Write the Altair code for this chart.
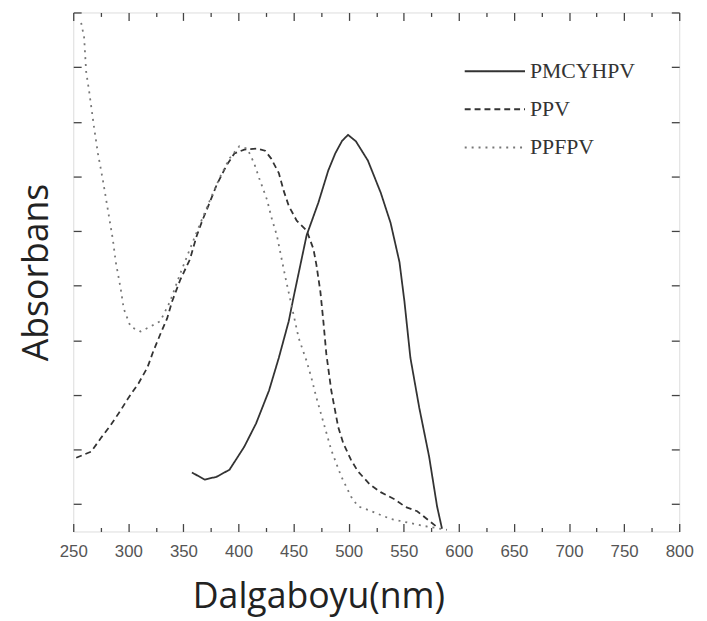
import altair as alt
import pandas as pd

# ---- data (x: wavelength nm, y: absorbance, arbitrary units) ----
series_order = ["PMCYHPV", "PPV", "PPFPV"]

pmc_x = [357.7, 369.3, 380.0, 391.8, 405.2, 416.0, 427.7, 436.6, 445.6, 450.1, 461.8,
         472.5, 481.5, 487.8, 494.0, 499.4, 506.6, 517.4, 529.1, 538.0, 546.1, 550.6,
         556.0, 564.0, 573.0, 580.2, 584.7]
pmc_y = [0.58, 0.45, 0.50, 0.63, 1.05, 1.48, 2.08, 2.68, 3.35, 3.80, 4.92,
         5.52, 6.11, 6.42, 6.65, 6.76, 6.64, 6.29, 5.70, 5.15, 4.43, 3.71,
         2.68, 1.77, 0.87, -0.04, -0.45]

ppv_x = [252.7, 266.2, 275.1, 284.1, 293.1, 300.2, 309.2, 317.3, 322.7, 329.0, 335.2,
         339.7, 347.0, 355.9, 362.2, 367.5, 373.8, 380.1, 389.1, 396.3, 405.2, 416.9,
         424.1, 429.5, 436.6, 441.1, 445.6, 452.8, 461.8, 468.0, 470.7, 474.3, 477.0,
         479.7, 484.2, 490.5, 495.0, 502.1, 508.4, 519.2, 529.0, 541.6, 551.5, 562.2,
         580.2]
ppv_y = [0.85, 0.96, 1.21, 1.45, 1.72, 1.95, 2.21, 2.50, 2.80, 3.11, 3.40,
         3.71, 4.10, 4.48, 4.92, 5.21, 5.52, 5.84, 6.20, 6.42, 6.49, 6.51,
         6.47, 6.33, 6.06, 5.73, 5.46, 5.19, 5.01, 4.67, 4.38, 3.89, 3.35,
         2.75, 2.08, 1.41, 1.12, 0.81, 0.60, 0.36, 0.22, 0.09, -0.05, -0.13,
         -0.42]

ppf_x = [257.2, 259.9, 261.7, 264.4, 268.8, 272.4, 276.9, 281.4, 285.9, 288.6, 293.1,
         295.8, 302.0, 311.0, 320.0, 329.0, 337.9, 346.9, 355.9, 364.9, 373.8, 382.8,
         391.8, 400.7, 407.9, 414.2, 418.7, 425.9, 430.4, 434.8, 438.4, 442.9, 454.6,
         461.8, 466.2, 470.7, 484.2, 493.2, 502.1, 508.4, 515.6, 538.0, 568.5, 589.2]
ppf_y = [8.81, 8.54, 7.92, 7.56, 6.91, 6.42, 5.93, 5.39, 4.85, 4.43, 3.94,
         3.58, 3.25, 3.16, 3.25, 3.35, 3.71, 4.21, 4.67, 5.12, 5.55, 5.97,
         6.33, 6.55, 6.51, 6.24, 5.97, 5.57, 5.21, 4.92, 4.56, 4.12, 3.04,
         2.62, 2.31, 1.95, 0.99, 0.51, 0.14, -0.04, -0.09, -0.27, -0.40, -0.47]

x_ticks = list(range(250, 801, 25))
y_ticks = list(range(0, 10))

rows = []
for name, xs, ys in [("PMCYHPV", pmc_x, pmc_y), ("PPV", ppv_x, ppv_y), ("PPFPV", ppf_x, ppf_y)]:
    for i, (a, b) in enumerate(zip(xs, ys)):
        rows.append({"series": name, "wl": a, "abs": b, "order": i})
df = pd.DataFrame(rows)

tick_major_minor = {"condition": {"test": "datum.value % 50 === 0", "value": -8}, "value": -4}

x_scale = alt.Scale(domain=[250, 800], nice=False, zero=False)
y_scale = alt.Scale(domain=[-0.5, 9.0], nice=False, zero=False)

legend_cfg = dict(title=None, orient="none", legendX=395, legendY=41,
                  symbolType="stroke", symbolSize=3721,
                  symbolStrokeWidth=2, clipHeight=37, rowPadding=1.5,
                  labelFont="Liberation Serif", labelFontSize=22,
                  labelColor="#333", labelOffset=4, padding=0)

lines = alt.Chart(df).mark_line(strokeWidth=1.8, clip=True).encode(
    x=alt.X("wl:Q", scale=x_scale,
            axis=alt.Axis(values=x_ticks, orient="bottom", domain=False,
                          labelExpr="datum.value % 50 === 0 ? datum.label : ''",
                          labelOverlap=False, labelFlush=False,
                          tickSize=tick_major_minor, tickColor="#444", tickWidth=1.3,
                          labelFont="Liberation Sans Narrow, Liberation Sans, sans-serif",
                          labelFontSize=17, labelColor="#555", labelPadding=20,
                          title="Dalgaboyu(nm)", titleFont="Open Sans", titleFontSize=36,
                          titleFontWeight="normal", titleColor="#222", titlePadding=17,
                          titleX=248, titleAlign="center", grid=False)),
    y=alt.Y("abs:Q", scale=y_scale,
            axis=alt.Axis(values=y_ticks, orient="left", domain=False, labels=False,
                          tickSize={"expr": "-8"}, tickColor="#444", tickWidth=1.3,
                          title="Absorbans", titleFont="Open Sans", titleFontSize=36,
                          titleFontWeight="normal", titleColor="#222", titlePadding=17,
                          grid=False)),
    strokeDash=alt.StrokeDash("series:N",
                              scale=alt.Scale(domain=series_order,
                                              range=[[1, 0], [6, 4], [2, 5]]),
                              legend=alt.Legend(**legend_cfg)),
    color=alt.Color("series:N",
                    scale=alt.Scale(domain=series_order, range=["#333333", "#333333", "#777777"]),
                    legend=alt.Legend(**legend_cfg)),
    order="order:Q",
)

frame_axes = alt.Chart(df).mark_line(opacity=0).encode(
    x=alt.X("wl:Q", scale=x_scale,
            axis=alt.Axis(values=x_ticks, orient="top", domain=False, labels=False,
                          tickSize=tick_major_minor, tickColor="#444", tickWidth=1.3,
                          title=None, grid=False)),
    y=alt.Y("abs:Q", scale=y_scale,
            axis=alt.Axis(values=y_ticks, orient="right", domain=False, labels=False,
                          tickSize={"expr": "-8"}, tickColor="#444", tickWidth=1.3,
                          title=None, grid=False)),
    detail="series:N",
    order="order:Q",
)

chart = alt.layer(lines, frame_axes).resolve_axis(x="independent", y="independent").properties(
    width=613, height=525,
    padding={"left": 11, "top": 0, "right": 5, "bottom": 0},
).configure_view(stroke="#444", strokeWidth=2).configure(background="white")

chart.save("out.html", embed_options={"renderer": "svg", "actions": False})
